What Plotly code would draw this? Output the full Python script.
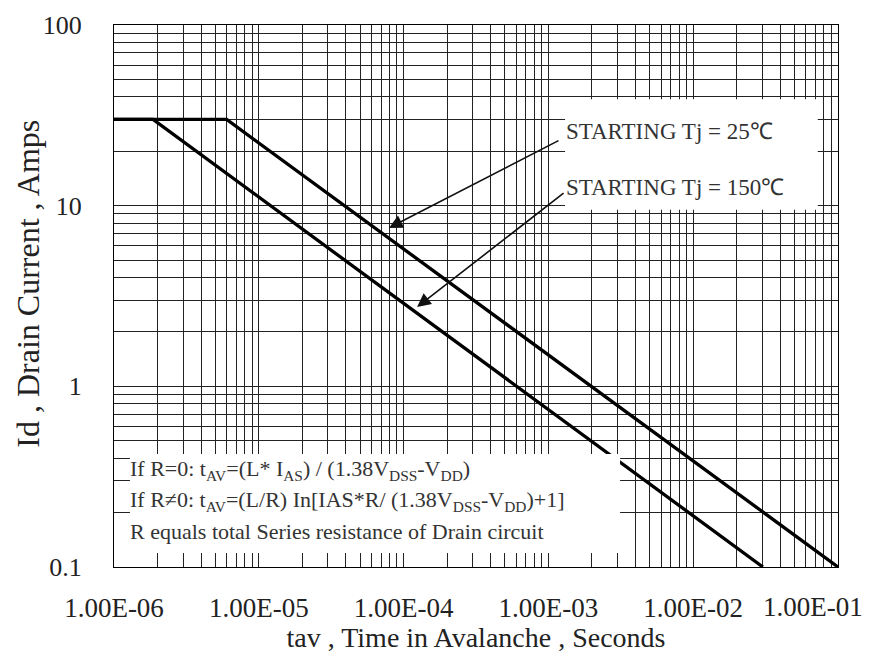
import plotly.graph_objects as go

# ---- data ----
tav_25c = [1e-6, 6.0e-6, 1.0e-1]
id_25c = [30, 30, 0.1]
tav_150c = [1e-6, 1.86e-6, 3.03e-2]
id_150c = [30, 30, 0.1]

x_tick_vals = [1e-6, 1e-5, 1e-4, 1e-3, 1e-2, 1e-1]
x_tick_text = ["1.00E-06", "1.00E-05", "1.00E-04", "1.00E-03", "1.00E-02", "1.00E-01"]
y_tick_vals = [0.1, 1, 10, 100]
y_tick_text = ["0.1", "1", "10", "100"]

x_title = "tav , Time in Avalanche , Seconds"
y_title = "Id , Drain Current , Amps"
label_25 = "STARTING Tj = 25\u2103"
label_150 = "STARTING Tj = 150\u2103"
note_lines = [
    "If R=0: t<sub>AV</sub>=(L* I<sub>AS</sub>) / (1.38V<sub>DSS</sub>-V<sub>DD</sub>)",
    "If R\u22600: t<sub>AV</sub>=(L/R) In[IAS*R/ (1.38V<sub>DSS</sub>-V<sub>DD</sub>)+1]",
    "R equals total Series resistance of Drain circuit",
]

# minor grid values (2..9 in each decade)
x_minor = [m * 10.0 ** e for e in range(-6, -1) for m in range(2, 10)]
y_minor = [m * 10.0 ** e for e in range(-1, 2) for m in range(2, 10)]

# the last x label sits inside the right edge in the reference; it is drawn
# as an annotation anchored on its tick value and nudged left
x_tick_text_axis = x_tick_text[:-1] + [""]

FONT = "Liberation Serif, Times New Roman, serif"
GRID = "#222"
TICKFONT_X = dict(size=27, family=FONT, color="#222")

fig = go.Figure()
fig.add_trace(go.Scatter(x=tav_25c, y=id_25c, mode="lines",
                         line=dict(color="black", width=3.3), showlegend=False))
fig.add_trace(go.Scatter(x=tav_150c, y=id_150c, mode="lines",
                         line=dict(color="black", width=3.3), showlegend=False))

fig.update_layout(
    width=869, height=653,
    margin=dict(l=106, r=39, t=17, b=94, autoexpand=False),
    paper_bgcolor="white", plot_bgcolor="white",
    font=dict(family=FONT, color="#222"),
    xaxis=dict(
        type="log", range=[-6, -1], automargin=False,
        tickmode="array", tickvals=x_tick_vals, ticktext=x_tick_text_axis,
        tickfont=TICKFONT_X,
        ticks="", ticklabelstandoff=16,
        showgrid=True, gridcolor=GRID, gridwidth=1.2,
        minor=dict(tickmode="array", tickvals=x_minor, showgrid=True,
                   gridcolor=GRID, gridwidth=1.2, ticks=""),
        showline=True, linecolor="black", linewidth=1.2, mirror=True,
        zeroline=False,
        title=dict(text=x_title,
                   font=dict(size=28, family=FONT, color="#222"), standoff=3),
    ),
    yaxis=dict(
        type="log", range=[-1, 2], automargin=False,
        tickmode="array", tickvals=y_tick_vals, ticktext=y_tick_text,
        tickfont=dict(size=26, family=FONT, color="#222"),
        ticks="", ticklabelstandoff=26, ticklabeloverflow="allow",
        showgrid=True, gridcolor=GRID, gridwidth=1.2,
        minor=dict(tickmode="array", tickvals=y_minor, showgrid=True,
                   gridcolor=GRID, gridwidth=1.2, ticks=""),
        showline=True, linecolor="black", linewidth=1.2, mirror=True,
        zeroline=False,
    ),
)

# last x tick label
import math
fig.add_annotation(x=math.log10(x_tick_vals[-1]), y=0, xref="x", yref="paper",
                   text=x_tick_text[-1], showarrow=False,
                   xanchor="center", yanchor="middle", xshift=-25, yshift=-40,
                   font=TICKFONT_X)

# y axis title
fig.add_annotation(x=-0.118, y=0.522, xref="paper", yref="paper", text=y_title,
                   textangle=-90, showarrow=False, xanchor="center", yanchor="middle",
                   font=dict(size=32, family=FONT, color="#222"))

# white label boxes that hide grid (and line) behind the texts
fig.add_shape(type="rect", xref="paper", yref="paper",
              x0=0.022, x1=0.699, y0=0.026, y1=0.2085,
              fillcolor="white", line=dict(width=0), layer="above")
fig.add_shape(type="rect", xref="paper", yref="paper",
              x0=0.623, x1=0.972, y0=0.659, y1=0.863,
              fillcolor="white", line=dict(width=0), layer="above")

# arrows (tip in log data coords, tail as pixel offset)
fig.add_annotation(x=-4.101, y=0.877, xref="x", yref="y", text="",
                   showarrow=True, arrowhead=2, arrowsize=1.7, arrowwidth=1.6,
                   arrowcolor="#111", ax=171, ay=-88)
fig.add_annotation(x=-3.907, y=0.439, xref="x", yref="y", text="",
                   showarrow=True, arrowhead=2, arrowsize=1.7, arrowwidth=1.6,
                   arrowcolor="#111", ax=148, ay=-115)

fig.add_annotation(x=0.6215, y=0.8026, xref="paper", yref="paper",
                   text=label_25, showarrow=False, xanchor="left", yanchor="middle",
                   font=dict(size=23, family=FONT, color="#333"))
fig.add_annotation(x=0.6215, y=0.701, xref="paper", yref="paper",
                   text=label_150, showarrow=False, xanchor="left", yanchor="middle",
                   font=dict(size=23, family=FONT, color="#333"))

for line_text, yp in zip(note_lines, [0.179, 0.1218, 0.0646]):
    fig.add_annotation(x=0.0194, y=yp, xref="paper", yref="paper",
                       text=line_text, showarrow=False, xanchor="left", yanchor="middle",
                       font=dict(size=22, family=FONT, color="#333"))

fig.write_html("out.html")
